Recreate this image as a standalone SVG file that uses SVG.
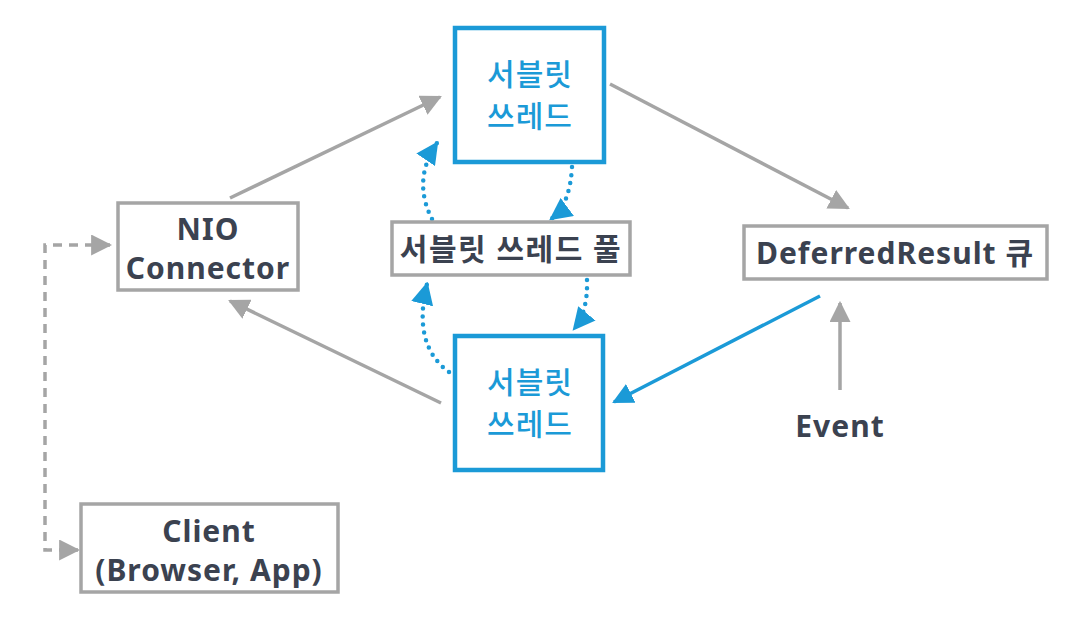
<svg xmlns="http://www.w3.org/2000/svg" width="1085" height="631" viewBox="0 0 1085 631">
<style>
.box{fill:#fff;stroke:#a5a5a5;stroke-width:3.5}
.bbox{fill:#fff;stroke:#1b9ad7;stroke-width:4.5}
.t{font-family:"Noto Sans","Noto Sans CJK KR",sans-serif;font-weight:700;font-size:30px;letter-spacing:1px;fill:#3b4250;text-anchor:middle}
.bt{font-family:"Noto Sans CJK KR","Noto Sans",sans-serif;font-weight:500;font-size:30px;letter-spacing:1px;fill:#1b9ad7;text-anchor:middle}
.g{stroke:#a5a5a5;stroke-width:3.5;fill:none}
.b{stroke:#1b9ad7;stroke-width:3.5;fill:none}
.dot{stroke:#1b9ad7;stroke-width:4.5;fill:none;stroke-linecap:round;stroke-dasharray:0 8}
.dash{stroke:#a5a5a5;stroke-width:3.5;fill:none;stroke-dasharray:9 7}
</style>
<defs>
<marker id="ag" viewBox="0 0 10 10" refX="9" refY="5" markerWidth="6" markerHeight="6" markerUnits="strokeWidth" orient="auto-start-reverse"><path d="M0,0 L10,5 L0,10 z" fill="#a5a5a5"/></marker>
<marker id="ab" viewBox="0 0 10 10" refX="9" refY="5" markerWidth="6" markerHeight="6" markerUnits="strokeWidth" orient="auto"><path d="M0,0 L10,5 L0,10 z" fill="#1b9ad7"/></marker>
<marker id="abd" viewBox="0 0 10 10" refX="9" refY="5" markerWidth="5" markerHeight="5" markerUnits="strokeWidth" orient="auto"><path d="M0,0 L10,5 L0,10 z" fill="#1b9ad7"/></marker>
</defs>
<rect width="1085" height="631" fill="#fff"/>
<g id="connectors">
<line class="g" x1="230" y1="198" x2="440" y2="97" marker-end="url(#ag)"/>
<line class="g" x1="610" y1="84" x2="848" y2="208" marker-end="url(#ag)"/>
<line class="g" x1="441" y1="403" x2="230" y2="301" marker-end="url(#ag)"/>
<line class="b" x1="820" y1="296" x2="614" y2="402" marker-end="url(#ab)"/>
<line class="g" x1="840" y1="390" x2="840" y2="303" marker-end="url(#ag)"/>
<path class="dash" d="M110,245 H45 V550 H78" marker-start="url(#ag)" marker-end="url(#ag)"/>
<path class="dot" d="M572,167 Q570,205 551,219" marker-end="url(#abd)"/>
<path class="dot" d="M587,280 Q588,312 574,329" marker-end="url(#abd)"/>
<path class="dot" d="M432,219 Q412,180 437,143" marker-end="url(#abd)"/>
<path class="dot" d="M449,372 Q412,345 427,284" marker-end="url(#abd)"/>
</g>
<g id="nio"><rect class="box" x="118" y="203" width="180" height="87"/><text class="t" x="208" y="240">NIO</text><text class="t" x="208" y="279">Connector</text></g>
<g id="servlet-top"><rect class="bbox" x="455" y="28" width="149" height="134"/><text class="bt" x="530" y="85">서블릿</text><text class="bt" x="530" y="127">쓰레드</text></g>
<g id="pool"><rect class="box" x="392" y="222" width="238" height="53"/><text class="t" x="511" y="260" font-family="Noto Sans CJK KR, sans-serif" style="letter-spacing:1.5px">서블릿 쓰레드 풀</text></g>
<g id="servlet-bottom"><rect class="bbox" x="455" y="336" width="148" height="134"/><text class="bt" x="530" y="393">서블릿</text><text class="bt" x="530" y="435">쓰레드</text></g>
<g id="deferred"><rect class="box" x="744" y="226" width="303" height="53"/><text class="t" x="895" y="264">DeferredResult 큐</text></g>
<g id="event"><text class="t" x="840" y="437">Event</text></g>
<g id="client"><rect class="box" x="81" y="504" width="257" height="88"/><text class="t" x="209" y="542">Client</text><text class="t" x="209" y="581">(Browser, App)</text></g>
</svg>
